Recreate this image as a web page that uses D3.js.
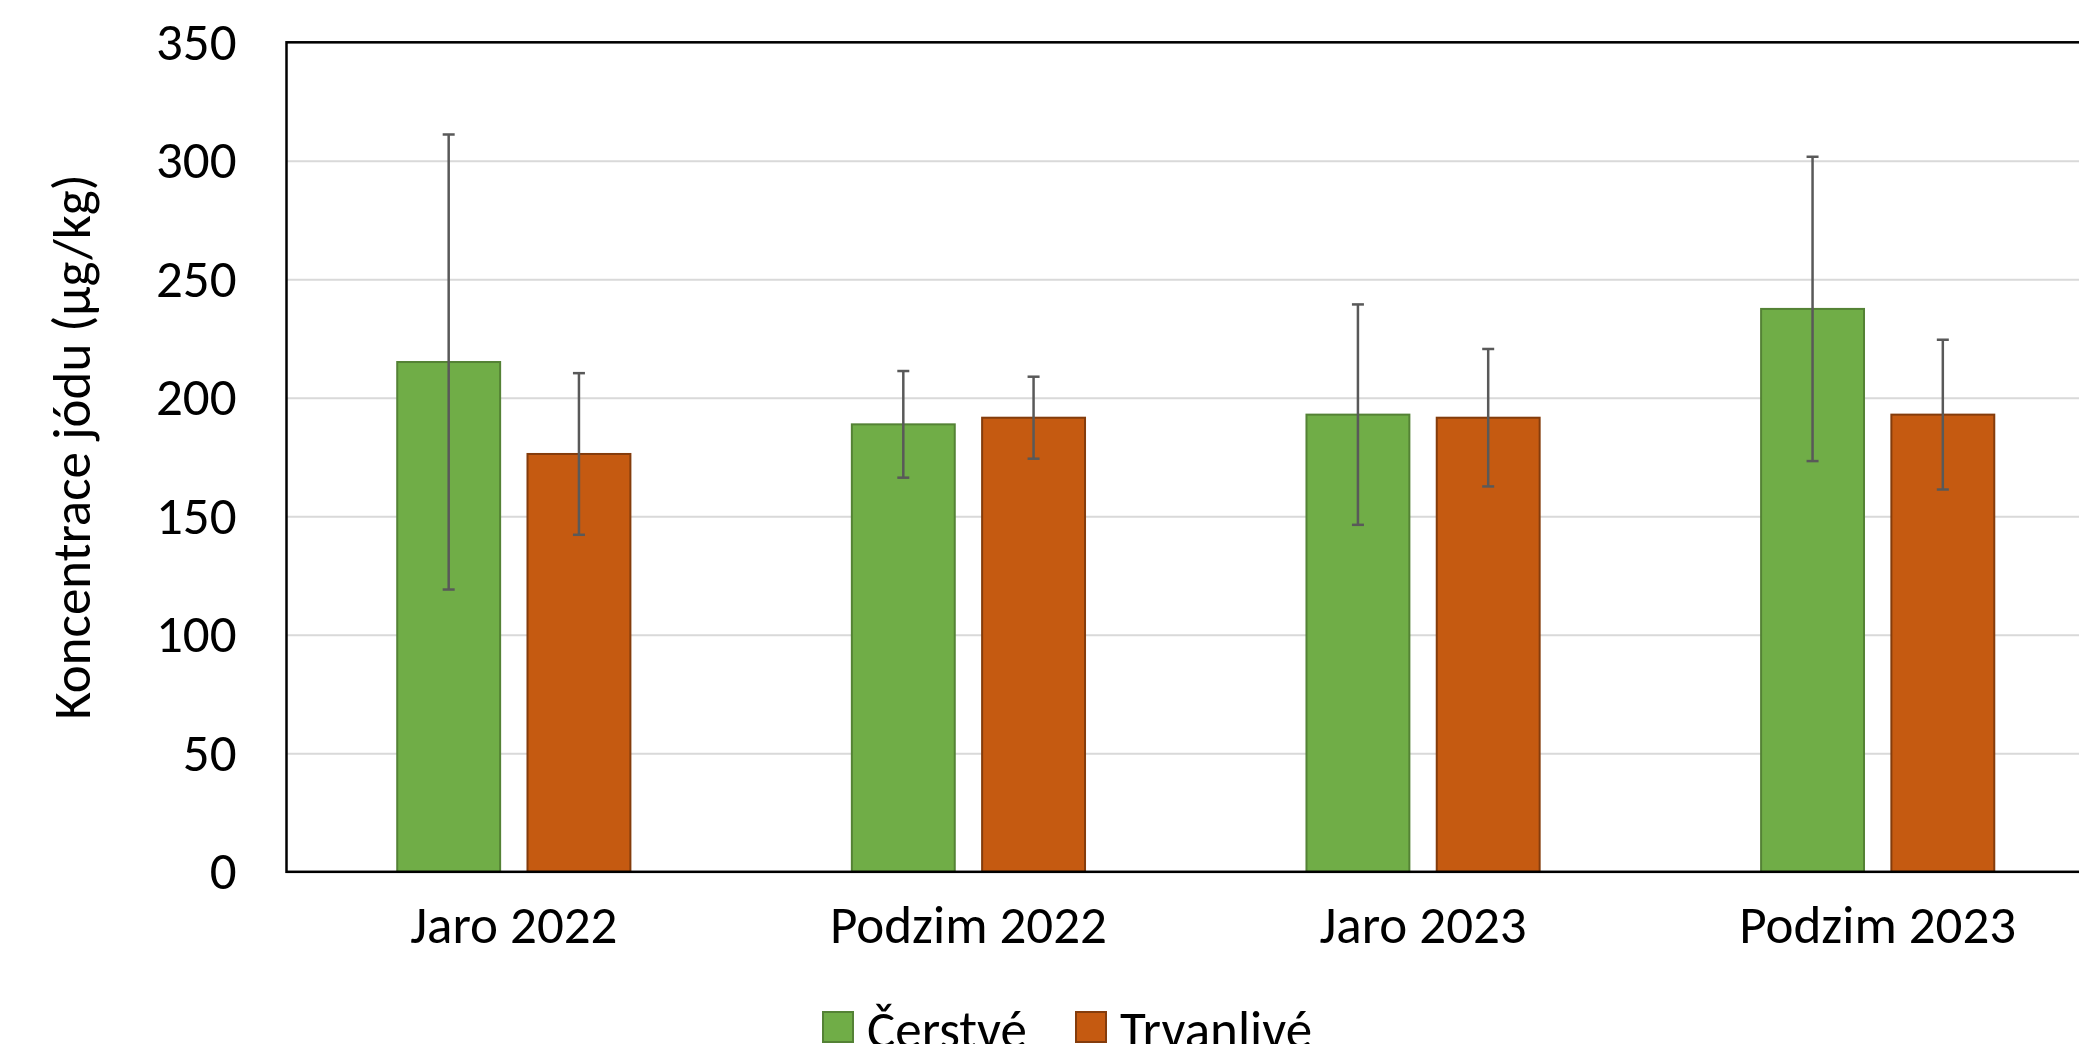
<!DOCTYPE html>
<html>
<head>
<meta charset="utf-8">
<script src="https://cdn.jsdelivr.net/npm/d3@7"></script>
<style>
  body { margin: 0; background: #fff; }
  svg { display: block; font-family: Carlito, Calibri, Lato, "Open Sans", sans-serif; }
</style>
</head>
<body>
<svg width="2079" height="1044"></svg>
<script>
// data
var categories = ["Jaro 2022", "Podzim 2022", "Jaro 2023", "Podzim 2023"];
var seriesNames = ["Čerstvé", "Trvanlivé"];
var cerstve = [215.1, 188.8, 192.9, 237.5];
var cerstveSd = [96, 22.5, 46.5, 64.2];
var trvanlive = [176.3, 191.6, 191.6, 192.9];
var trvanliveSd = [34.1, 17.3, 29.0, 31.6];
var yTicks = [0, 50, 100, 150, 200, 250, 300, 350];

var fills = ["#70ad47", "#c55a11"];
var strokes = ["#548235", "#843c0c"];

var svg = d3.select("svg"),
    width = +svg.attr("width"),
    height = +svg.attr("height");

var plotLeft = 286.5, plotTop = 42.3, plotBottom = 871.8, plotRight = 2105;
var fontSize = 53;

var x0 = d3.scaleBand().domain(categories).range([plotLeft, plotRight]);
var x1 = d3.scaleBand().domain(seriesNames).range([0, x0.bandwidth()])
    .paddingInner(0.21).paddingOuter(0.85);
var y = d3.scaleLinear().domain([0, 350]).range([plotBottom, plotTop]);

var rows = categories.map(function(c, i) {
  return [
    {cat: c, s: seriesNames[0], v: cerstve[i], sd: cerstveSd[i], k: 0},
    {cat: c, s: seriesNames[1], v: trvanlive[i], sd: trvanliveSd[i], k: 1}
  ];
});

// gridlines
svg.append("g")
  .attr("transform", "translate(" + plotLeft + ",0)")
  .call(d3.axisLeft(y).tickValues(yTicks).tickSize(-(plotRight - plotLeft)).tickFormat(""))
  .call(function(g) {
    g.select(".domain").remove();
    g.selectAll("line").attr("stroke", "#d9d9d9").attr("stroke-width", 2);
  });

// y tick labels
svg.append("g")
  .attr("transform", "translate(" + plotLeft + ",0)")
  .call(d3.axisLeft(y).tickValues(yTicks).tickSize(0).tickPadding(50))
  .call(function(g) {
    g.select(".domain").remove();
    g.selectAll("text").attr("font-size", fontSize).attr("fill", "#000")
      .attr("font-family", "Carlito, Calibri, Lato, sans-serif");
  });

// bars
var groups = svg.append("g").selectAll("g")
  .data(rows)
  .join("g")
  .attr("transform", function(d, i) { return "translate(" + x0(categories[i]) + ",0)"; });

groups.selectAll("rect")
  .data(function(d) { return d; })
  .join("rect")
  .attr("x", function(d) { return x1(d.s); })
  .attr("y", function(d) { return y(d.v); })
  .attr("width", x1.bandwidth())
  .attr("height", function(d) { return y(0) - y(d.v); })
  .attr("fill", function(d) { return fills[d.k]; })
  .attr("stroke", function(d) { return strokes[d.k]; })
  .attr("stroke-width", 2);

// error bars
var err = groups.selectAll("g.err")
  .data(function(d) { return d; })
  .join("g")
  .attr("class", "err")
  .attr("stroke", "#595959")
  .attr("stroke-width", 2.5);

err.append("line")
  .attr("x1", function(d) { return x1(d.s) + x1.bandwidth() / 2; })
  .attr("x2", function(d) { return x1(d.s) + x1.bandwidth() / 2; })
  .attr("y1", function(d) { return y(d.v + d.sd); })
  .attr("y2", function(d) { return y(d.v - d.sd); });
[1, -1].forEach(function(sign) {
  err.append("line")
    .attr("x1", function(d) { return x1(d.s) + x1.bandwidth() / 2 - 6; })
    .attr("x2", function(d) { return x1(d.s) + x1.bandwidth() / 2 + 6; })
    .attr("y1", function(d) { return y(d.v + sign * d.sd); })
    .attr("y2", function(d) { return y(d.v + sign * d.sd); });
});

// plot border
svg.append("rect")
  .attr("x", plotLeft).attr("y", plotTop)
  .attr("width", plotRight - plotLeft).attr("height", plotBottom - plotTop)
  .attr("fill", "none").attr("stroke", "#000").attr("stroke-width", 2.5);

// category labels
svg.append("g")
  .attr("transform", "translate(0," + plotBottom + ")")
  .call(d3.axisBottom(x0).tickSize(0).tickPadding(34))
  .call(function(g) {
    g.select(".domain").remove();
    g.selectAll("text").attr("font-size", fontSize).attr("fill", "#000")
      .attr("font-family", "Carlito, Calibri, Lato, sans-serif");
  });

// y title
svg.append("text")
  .attr("transform", "translate(90,447) rotate(-90)")
  .attr("text-anchor", "middle")
  .attr("font-size", fontSize)
  .text("Koncentrace jódu (µg/kg)");

// legend
var legendX = [823, 1076];
var legend = svg.append("g").selectAll("g")
  .data(seriesNames)
  .join("g")
  .attr("transform", function(d, i) { return "translate(" + legendX[i] + ",1012)"; });
legend.append("rect")
  .attr("width", 30).attr("height", 30)
  .attr("fill", function(d, i) { return fills[i]; })
  .attr("stroke", function(d, i) { return strokes[i]; })
  .attr("stroke-width", 2);
legend.append("text")
  .attr("x", 44).attr("y", 36)
  .attr("font-size", fontSize)
  .text(function(d) { return d; });
</script>
</body>
</html>
